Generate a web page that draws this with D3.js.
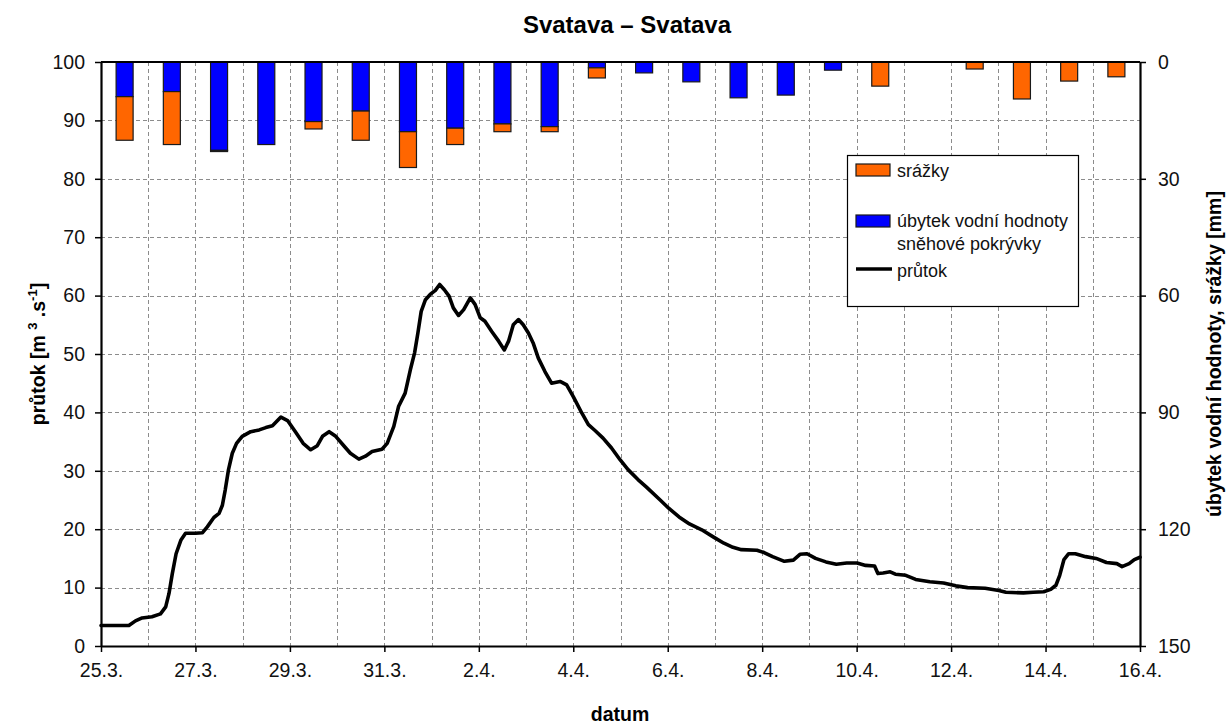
<!DOCTYPE html>
<html><head><meta charset="utf-8">
<script src="https://cdn.jsdelivr.net/npm/d3@7"></script>
<style>
body{margin:0;background:#fff}
svg{display:block}
text{font-family:Arial,"Liberation Sans",sans-serif}
</style>
</head><body>
<svg id="c" width="1229" height="726"></svg>
<script>
// ---- data ----
const barDates = ["25.3.","26.3.","27.3.","28.3.","29.3.","30.3.","31.3.","1.4.","2.4.","3.4.","4.4.",
  "5.4.","6.4.","7.4.","8.4.","9.4.","10.4.","11.4.","12.4.","13.4.","14.4.","15.4."];
// úbytek vodní hodnoty sněhové pokrývky [mm]
const snowMelt = [8.9,7.6,22.7,21.2,15.3,12.6,17.9,17.0,15.9,16.6,1.5,2.8,5.1,9.2,8.5,2.1,0,0,0,0,0,0];
// srážky [mm]
const precip   = [11.2,13.6,0.3,0,1.9,7.5,9.2,4.2,2.0,1.3,2.6,0,0,0,0,0,6.2,0,1.8,9.5,4.9,3.8];
// průtok: time in days since 25.3. 0:00, discharge m3/s
const flowDay = [0,0.59,0.73,0.87,1.08,1.26,1.37,1.44,1.51,1.59,1.69,1.79,2.0,2.15,2.25,2.39,2.50,2.57,2.63,2.70,
  2.78,2.87,2.99,3.17,3.35,3.49,3.63,3.81,3.95,4.13,4.28,4.44,4.58,4.69,4.83,4.97,5.15,5.28,5.46,5.60,
  5.74,5.95,6.06,6.20,6.30,6.44,6.55,6.64,6.71,6.78,6.87,6.97,7.08,7.17,7.27,7.37,7.46,7.57,7.68,7.82,
  7.92,8.03,8.13,8.27,8.42,8.54,8.63,8.73,8.84,8.94,9.05,9.15,9.26,9.40,9.54,9.72,9.86,10.0,10.18,10.32,
  10.46,10.63,10.81,10.99,11.16,11.37,11.55,11.84,12.02,12.24,12.46,12.72,12.98,13.19,13.38,13.56,13.89,14.04,14.22,14.47,
  14.66,14.80,14.95,15.13,15.35,15.57,15.79,16.01,16.19,16.38,16.45,16.56,16.71,16.82,17.04,17.25,17.55,17.84,18.10,18.35,
  18.72,19.01,19.16,19.53,19.74,19.96,20.11,20.22,20.30,20.39,20.49,20.63,20.85,21.07,21.29,21.51,21.62,21.77,21.88,22.0];
const flowQ = [3.5,3.5,4.3,4.8,5.0,5.5,6.7,9.0,12.4,15.8,18.1,19.3,19.3,19.4,20.4,22.0,22.7,24.1,26.7,30.2,
  33.0,34.7,35.9,36.7,37.0,37.4,37.7,39.2,38.6,36.5,34.7,33.6,34.3,35.9,36.7,35.9,34.2,33.0,32.0,32.5,
  33.3,33.7,34.7,37.6,41.0,43.3,47.3,50.2,53.6,57.3,59.3,60.2,60.9,61.9,61.0,59.9,57.9,56.6,57.6,59.6,
  58.5,56.2,55.6,53.9,52.2,50.7,52.2,55.0,55.9,55.0,53.6,51.9,49.3,47.0,45.0,45.3,44.7,42.7,39.9,37.9,
  36.9,35.6,33.9,31.9,30.2,28.5,27.2,25.0,23.6,22.1,20.9,19.9,18.6,17.6,16.9,16.5,16.4,16.0,15.3,14.5,
  14.7,15.7,15.8,15.0,14.4,14.0,14.2,14.2,13.8,13.7,12.4,12.5,12.7,12.3,12.1,11.4,11.0,10.8,10.3,10.0,
  9.9,9.5,9.2,9.1,9.2,9.3,9.7,10.4,12.1,14.8,15.8,15.8,15.3,15.0,14.3,14.1,13.6,14.1,14.8,15.2];
const xTickDays = [0,2,4,6,8,10,12,14,16,18,20,22];
const xTickLabels = ["25.3.","27.3.","29.3.","31.3.","2.4.","4.4.","6.4.","8.4.","10.4.","12.4.","14.4.","16.4."];
const leftTicks = [0,10,20,30,40,50,60,70,80,90,100];
const rightTicks = [0,30,60,90,120,150];
const gridDays = d3.range(1,22);
const gridQ = [10,20,30,40,50,60,70,80,90];

// ---- layout ----
const L=101, R=1140, T=62, B=646;
const svg = d3.select("#c");
const x  = d3.scaleLinear().domain([0,22]).range([L,R]);
const xb = d3.scaleBand().domain(barDates).range([L,R]).paddingInner(0.64).paddingOuter(0.32);
const yL = d3.scaleLinear().domain([0,100]).range([B,T]);
const yR = d3.scaleLinear().domain([0,150]).range([T,B]);

// grid
const g = svg.append("g").attr("stroke","#8c8c8c").attr("stroke-width",1).attr("stroke-dasharray","4,3");
g.selectAll("line.h").data(gridQ).join("line").attr("class","h")
  .attr("x1",L).attr("x2",R).attr("y1",d=>Math.round(yL(d))+0.5).attr("y2",d=>Math.round(yL(d))+0.5);
g.selectAll("line.v").data(gridDays).join("line").attr("class","v")
  .attr("y1",T).attr("y2",B).attr("x1",d=>Math.round(x(d))+0.5).attr("x2",d=>Math.round(x(d))+0.5);

// bars
const bars = svg.append("g").attr("stroke","#1a1a1a").attr("stroke-width",1.2);
bars.selectAll("rect.s").data(barDates.map((d,i)=>({d,v:snowMelt[i]})).filter(o=>o.v>0)).join("rect")
  .attr("class","s").attr("fill","#0000ff")
  .attr("x",o=>xb(o.d)).attr("width",xb.bandwidth())
  .attr("y",yR(0)).attr("height",o=>yR(o.v)-yR(0));
bars.selectAll("rect.p").data(barDates.map((d,i)=>({d,s:snowMelt[i],v:precip[i]})).filter(o=>o.v>0)).join("rect")
  .attr("class","p").attr("fill","#ff6600")
  .attr("x",o=>xb(o.d)).attr("width",xb.bandwidth())
  .attr("y",o=>yR(o.s)).attr("height",o=>yR(o.s+o.v)-yR(o.s));

// flow line
const line = d3.line().x((d,i)=>x(flowDay[i])).y((d,i)=>yL(flowQ[i]));
svg.append("path").datum(flowQ).attr("d",line)
  .attr("fill","none").attr("stroke","#000").attr("stroke-width",3.6)
  .attr("stroke-linejoin","round").attr("stroke-linecap","round");

// axes
function styleAxis(sel){
  sel.select(".domain").attr("stroke","#000").attr("stroke-width",2.2);
  sel.selectAll(".tick line").attr("stroke","#000").attr("stroke-width",1.5);
  sel.selectAll(".tick text").attr("fill","#111").style("font-size","19.5px")
     .style("font-family","Arial, 'Liberation Sans', sans-serif");
}
svg.append("g").attr("transform",`translate(${L},0)`)
  .call(d3.axisLeft(yL).tickValues(leftTicks).tickSize(6).tickSizeOuter(0).tickPadding(10))
  .call(styleAxis);
svg.append("g").attr("transform",`translate(${R},0)`)
  .call(d3.axisRight(yR).tickValues(rightTicks).tickSize(6).tickSizeOuter(0).tickPadding(12))
  .call(styleAxis);
svg.append("g").attr("transform",`translate(0,${B})`)
  .call(d3.axisBottom(x).tickValues(xTickDays).tickFormat((d,i)=>xTickLabels[i]).tickSize(6).tickSizeOuter(0).tickPadding(11))
  .call(styleAxis);
// top border
svg.append("line").attr("x1",L).attr("x2",R).attr("y1",T).attr("y2",T)
  .attr("stroke","#000").attr("stroke-width",2.2);

// titles
svg.append("text").attr("x",627).attr("y",33).attr("text-anchor","middle")
  .style("font-size","24px").style("font-weight","bold").text("Svatava – Svatava");
svg.append("text").attr("x",620).attr("y",721).attr("text-anchor","middle")
  .style("font-size","19.5px").style("font-weight","bold").text("datum");
const lt = svg.append("text").attr("transform","translate(45,354) rotate(-90)").attr("text-anchor","middle")
  .style("font-size","19.5px").style("font-weight","bold");
lt.append("tspan").text("průtok [m ");
lt.append("tspan").attr("dy",-8).style("font-size","13px").text("3");
lt.append("tspan").attr("dy",8).text(" .s");
lt.append("tspan").attr("dy",-8).style("font-size","13px").text("-1");
lt.append("tspan").attr("dy",8).text("]");
svg.append("text").attr("transform","translate(1221,354) rotate(-90)").attr("text-anchor","middle")
  .style("font-size","19.5px").style("font-weight","bold").text("úbytek vodní hodnoty, srážky [mm]");

// legend
const lg = svg.append("g");
lg.append("rect").attr("x",847.5).attr("y",155.5).attr("width",231).attr("height",151)
  .attr("fill","#fff").attr("stroke","#000").attr("stroke-width",1.2);
lg.append("rect").attr("x",856).attr("y",164).attr("width",34).attr("height",12)
  .attr("fill","#ff6600").attr("stroke","#1a1a1a").attr("stroke-width",1.2);
lg.append("rect").attr("x",856).attr("y",215).attr("width",34).attr("height",12)
  .attr("fill","#0000ff").attr("stroke","#1a1a1a").attr("stroke-width",1.2);
lg.append("line").attr("x1",856).attr("x2",892).attr("y1",269).attr("y2",269)
  .attr("stroke","#000").attr("stroke-width",3.6);
const lt2 = [["srážky",177],["úbytek vodní hodnoty",227],["sněhové pokrývky",250],["průtok",277]];
lg.selectAll("text").data(lt2).join("text").attr("x",897).attr("y",d=>d[1])
  .style("font-size","18px").attr("fill","#111").text(d=>d[0]);
</script>
</body></html>
